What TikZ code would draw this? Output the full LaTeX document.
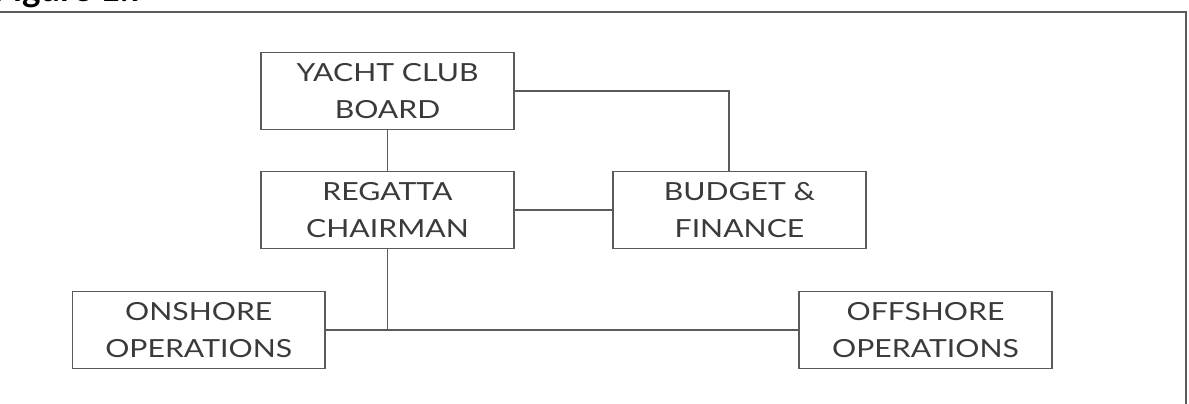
\documentclass[tikz,border=0pt]{standalone}
\usepackage{fontspec}
\setmainfont{Lato}
\newfontfamily\boxfont[FakeStretch=1.21]{Lato}
\usetikzlibrary{positioning}
\definecolor{inkgray}{HTML}{3A3A3A}
\definecolor{rulegray}{HTML}{5A5A5A}

\begin{document}
\begin{tikzpicture}[x=0.02cm, y=-0.02cm,
  orgbox/.style={draw=rulegray, line width=0.8pt, minimum width=5.06cm, minimum height=1.54cm,
    align=center, text=inkgray, inner sep=0pt, font=\boxfont\fontsize{14.2}{20.8}\selectfont},
  link/.style={draw=rulegray, line width=0.8pt}]
  \useasboundingbox (0,0) rectangle (1189,404);

  % Caption and frame
  \node[anchor=base east, font=\bfseries\fontsize{20}{24}\selectfont, text=black, inner sep=0pt] (caption) at (150,2) {Figure 1.7};
  \draw[rulegray, line width=1.1pt] (-10,12) -- (1186,12) -- (1186,420);

  % Boxes
  \node[orgbox] (board) at (387.5,91) {YACHT CLUB\\BOARD};
  \node[orgbox] (chair) at (387.5,210) {REGATTA\\CHAIRMAN};
  \node[orgbox] (budget) at (739.5,210) {BUDGET \&\\FINANCE};
  \node[orgbox] (onshore) at (198.7,330) {ONSHORE\\OPERATIONS};
  \node[orgbox] (offshore) at (925.5,330) {OFFSHORE\\OPERATIONS};

  % Connectors
  \coordinate (bend) at (729,91);
  \draw[link] (board) -- (chair);
  \draw[link] (board.east) -- (bend) -- (bend |- budget.north);
  \draw[link] (chair.east) -- (budget.west);
  \coordinate (joint) at (chair.south |- onshore.east);
  \draw[link] (chair.south) -- (joint);
  \draw[link] (onshore.east) -- (offshore.west);
\end{tikzpicture}
\end{document}
